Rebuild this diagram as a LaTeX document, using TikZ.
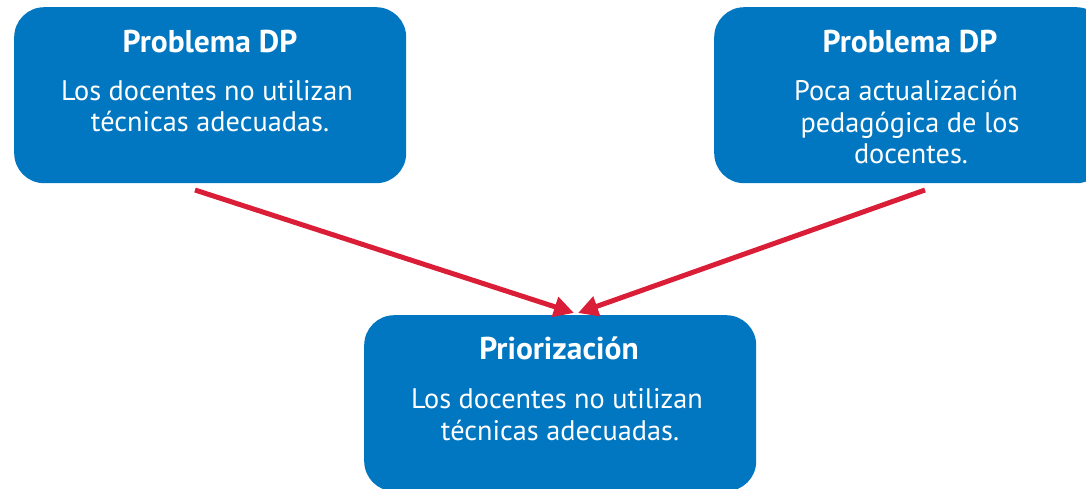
\documentclass[tikz,border=0pt]{standalone}
\usepackage{fontspec}
\setmainfont{PT Sans}
\usetikzlibrary{arrows.meta}
\definecolor{boxblue}{RGB}{0,119,192}
\definecolor{arrred}{RGB}{218,30,55}
\tikzset{
  panel/.style={fill=boxblue, draw=none, rounded corners=30pt, minimum width=392pt, minimum height=176pt, anchor=north west, inner sep=0pt},
  ttl/.style={text=white, font=\fontsize{31.5}{36}\selectfont\bfseries, anchor=base, inner sep=0pt},
  bdy/.style={text=white, font=\fontsize{28.3}{34}\selectfont, anchor=base, inner sep=0pt},
  link/.style={draw=arrred, line width=5pt, -{Triangle[length=20pt,width=20pt]}}
}
\begin{document}
\begin{tikzpicture}[x=1pt,y=-1pt]
\useasboundingbox (0,0) rectangle (1086,488);
\clip (0,0) rectangle (1086,488);
\node[panel] (p1) at (14,7) {};
\node[panel] (p2) at (714,7) {};
\node[panel] (p3) at (364,315) {};
\node[ttl] (t1) at (210,52) {Problema DP};
\node[bdy] (b1a) at (207,100) {Los docentes no utilizan};
\node[bdy] (b1b) at (210,131) {técnicas adecuadas.};
\node[ttl] (t2) at (910,52) {Problema DP};
\node[bdy] (b2a) at (906,100) {Poca actualización};
\node[bdy] (b2b) at (910,132) {pedagógica de los};
\node[bdy] (b2c) at (911,163) {docentes.};
\node[ttl] (t3) at (559,359) {Priorización};
\node[bdy] (b3a) at (557,408) {Los docentes no utilizan};
\node[bdy] (b3b) at (560,440) {técnicas adecuadas.};
\coordinate (s1) at (195,190);
\coordinate (s2) at (925,190);
\coordinate (e1) at (574,313);
\coordinate (e2) at (578,313);
\draw[link] (s1) -- (e1);
\draw[link] (s2) -- (e2);
\end{tikzpicture}
\end{document}
